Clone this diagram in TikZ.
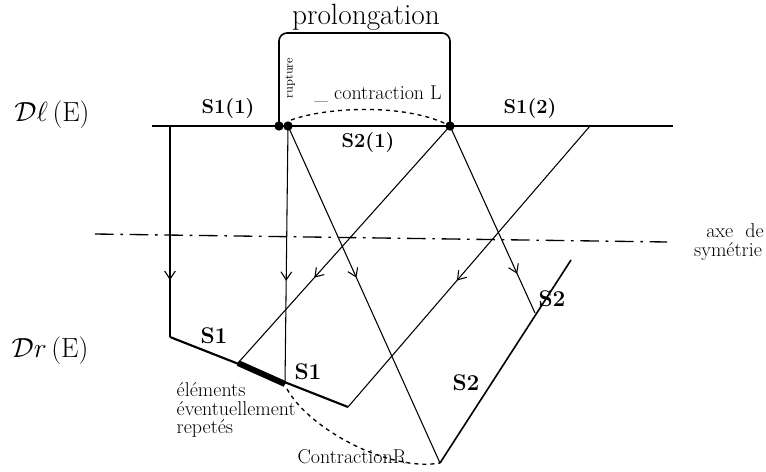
\documentclass[tikz,border=0pt]{standalone}
\usetikzlibrary{arrows.meta,decorations.markings}
\tikzset{
  thinline/.style={line width=0.8pt},
  midarrow/.style={postaction={decorate},decoration={markings,
    mark=at position #1 with {\arrow{Straight Barb[length=6pt,width=8pt]}}}},
  lbl/.style={font=\fontsize{15}{17}\selectfont\bfseries},
  biglbl/.style={font=\fontsize{17}{19}\selectfont\bfseries},
  note/.style={font=\fontsize{15}{14}\selectfont},
  dot/.style={circle,fill,inner sep=0pt,minimum size=7pt},
}
\begin{document}
\begin{tikzpicture}[x=0.75pt,y=0.75pt,yscale=-1,xscale=1]
  \useasboundingbox (0,0) rectangle (766,471);
  % points of the two lines
  \coordinate (dlA) at (152,126);
  \coordinate (dlB) at (170,126);
  \coordinate (dlE) at (590,126);
  \coordinate (dlF) at (673,126);
  \coordinate (drA) at (170,337);
  \coordinate (drB) at (238,363);
  \coordinate (drC) at (285,384);
  \coordinate (drD) at (348,407);
  \coordinate (sdA) at (440,463);
  \coordinate (sdB) at (535,313);
  \coordinate (sdC) at (571,260);
  \coordinate (prA) at (279,33);
  \coordinate (prB) at (450,33);

  %Line Dl(E)
  \draw [thinline] (dlA) -- (dlF);
  \draw [line width=2.2pt] (dlB) -- (dlE);
  \node [dot] (rupL) at (279,126) {};
  \node [dot] (rupR) at (288,126) {};
  \node [dot] (cut) at (450,126) {};

  %prolongation
  \draw [line width=1.2pt, rounded corners=6pt] (rupL.center) -- (prA) -- (prB) -- (cut.center);

  %axe de symetrie
  \draw [line width=1pt, dash pattern={on 14pt off 5pt on 2pt off 5pt}] (95,234) -- (667,242);

  %transfers
  \draw [thinline, midarrow=0.73] (dlB) -- (drA);
  \draw [thinline, midarrow=0.60] (rupR.center) -- (drC);
  \draw [thinline, midarrow=0.45] (rupR.center) -- (sdA);
  \draw [thinline, midarrow=0.64] (cut.center) -- (drB);
  \draw [thinline, midarrow=0.79] (cut.center) -- (sdB);
  \draw [thinline, midarrow=0.55] (dlE) -- (drD);

  %Line Dr(E)
  \draw [line width=1.6pt] (drA) -- (drD);
  \draw [line width=4.5pt] (drB) -- (drC);
  \draw [line width=1.2pt] (sdA) -- (sdC);

  %contractions
  \draw [line width=1pt, dashed] (291,120) .. controls (330,106) and (410,104) .. (cut.center);
  \draw [line width=1pt, dashed] (287,389) .. controls (310,430) and (390,472) .. (sdA);

  % Text Node
  \node [font=\fontsize{20}{22}\selectfont] (dl) at (52,115) {$\mathcal{D}\ell\,(\mathrm{E})$};
  \node [font=\fontsize{20}{22}\selectfont] (dr) at (50,351) {$\mathcal{D}r\,(\mathrm{E})$};
  \node [font=\fontsize{22}{24}\selectfont] (prolong) at (366,17) {prolongation};
  \node [font=\small, rotate=90] (rupture) at (290,78) {rupture};
  \node [note] (conL) at (378,94) {\_ contraction L};
  \node [lbl] (s11) at (228,109) {S1(1)};
  \node [lbl] (s12) at (530,109) {S1(2)};
  \node [lbl] (s21) at (368,143) {S2(1)};
  \node [biglbl] (s1a) at (214,336) {S1};
  \node [biglbl] (s1b) at (308,372) {S1};
  \node [biglbl] (s2a) at (552,299) {S2};
  \node [biglbl] (s2b) at (466,383) {S2};
  \node [note] (axe) at (735,231) {axe\ \ de};
  \node [note] (sym) at (728,252) {symétrie};
  \node [note, align=left, anchor=north west] (elem) at (172,378) {éléments\\éventuellement\\repetés};
  \node [note] (conR) at (352,457) {ContractionR};
\end{tikzpicture}
\end{document}
